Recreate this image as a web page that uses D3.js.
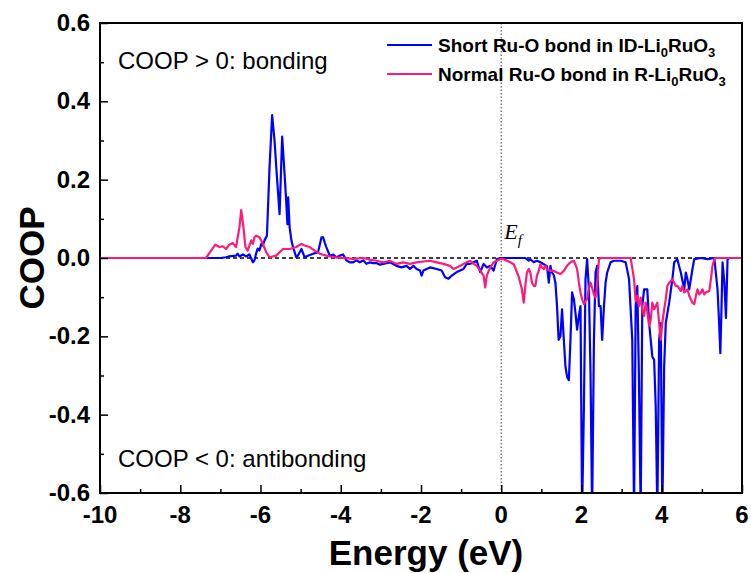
<!DOCTYPE html>
<html lang="en">
<head>
<meta charset="utf-8">
<title>COOP</title>
<script src="https://cdnjs.cloudflare.com/ajax/libs/d3/7.8.5/d3.min.js"></script>
<style>
  html, body { margin: 0; padding: 0; background: #fff; }
  svg { display: block; font-family: "Liberation Sans", Arial, sans-serif; }
</style>
</head>
<body>
<div id="chart"></div>
<script>
// ---- data: [energy (eV), COOP] ----
const shortBond = [
  [-10,0],[-7.0,0],[-6.86,0.002],[-6.775,0.004],[-6.61,0.006],[-6.57,0.011],[-6.525,0.004],[-6.44,0.009],
  [-6.36,0.004],[-6.275,0.009],[-6.19,-0.011],[-6.15,-0.006],[-6.11,0.011],[-6.07,0.024],[-6.025,0.019],
  [-5.98,0.036],[-5.94,0.032],[-5.9,0.045],[-5.84,0.057],[-5.775,0.231],[-5.71,0.365],[-5.65,0.299],
  [-5.59,0.206],[-5.525,0.112],[-5.46,0.31],[-5.4,0.214],[-5.36,0.146],[-5.33,0.086],[-5.31,0.155],
  [-5.275,0.079],[-5.23,0.045],[-5.19,0.028],[-5.11,0.002],[-5.07,0.006],[-4.98,0.023],[-4.9,0.002],
  [-4.815,0.006],[-4.69,0.011],[-4.565,0.015],[-4.48,0.053],[-4.44,0.053],[-4.4,0.04],[-4.36,0.028],
  [-4.275,0.006],[-4.19,0.009],[-4.11,0.002],[-4.025,0.006],[-3.94,0.009],[-3.86,-0.006],[-3.775,-0.011],
  [-3.69,-0.011],[-3.61,-0.006],[-3.525,-0.011],[-3.44,-0.006],[-3.36,-0.015],[-3.275,-0.011],[-3.19,-0.013],
  [-3.11,-0.013],[-3.025,-0.017],[-2.94,-0.015],[-2.775,-0.011],[-2.61,-0.02],[-2.485,-0.024],[-2.36,-0.02],
  [-2.275,-0.028],[-2.19,-0.02],[-2.11,-0.028],[-2.025,-0.032],[-1.985,-0.045],[-1.94,-0.032],[-1.86,-0.028],
  [-1.775,-0.024],[-1.61,-0.028],[-1.485,-0.032],[-1.4,-0.049],[-1.315,-0.053],[-1.235,-0.045],[-1.11,-0.036],
  [-1.025,-0.032],[-0.94,-0.028],[-0.86,-0.015],[-0.775,-0.015],[-0.69,-0.011],[-0.61,-0.007],[-0.525,-0.036],
  [-0.44,-0.015],[-0.36,-0.024],[-0.275,-0.02],[-0.19,-0.032],[-0.11,-0.003],[0,0],[0.6,0],[0.685,-0.007],
  [0.725,-0.003],[0.81,-0.011],[0.89,-0.007],[0.975,-0.011],[1.06,-0.016],[1.14,-0.021],[1.185,-0.063],
  [1.225,-0.02],[1.265,-0.037],[1.31,-0.044],[1.35,-0.063],[1.39,-0.123],[1.43,-0.209],[1.475,-0.2],
  [1.515,-0.131],[1.56,-0.209],[1.6,-0.277],[1.64,-0.303],[1.685,-0.312],[1.725,-0.209],[1.765,-0.088],
  [1.81,-0.105],[1.85,-0.14],[1.89,-0.183],[1.935,-0.148],[1.975,-0.123],[2.015,-0.65],[2.06,-0.38],
  [2.1,-0.054],[2.14,-0.003],[2.185,-0.08],[2.225,-0.294],[2.265,-0.65],[2.31,-0.209],[2.35,-0.037],
  [2.39,-0.02],[2.435,-0.123],[2.475,-0.123],[2.515,-0.209],[2.56,-0.123],[2.6,-0.063],[2.64,-0.037],
  [2.725,-0.011],[2.81,-0.007],[2.975,-0.007],[3.1,-0.011],[3.185,-0.054],[3.265,-0.209],[3.31,-0.65],
  [3.35,-0.123],[3.39,-0.072],[3.43,-0.294],[3.475,-0.65],[3.515,-0.123],[3.56,-0.08],[3.64,-0.08],
  [3.685,-0.166],[3.725,-0.209],[3.765,-0.252],[3.81,-0.26],[3.85,-0.38],[3.89,-0.65],[3.935,-0.209],
  [3.975,-0.166],[4.015,-0.65],[4.06,-0.277],[4.1,-0.166],[4.185,-0.114],[4.265,-0.054],[4.31,-0.011],
  [4.39,-0.003],[4.43,-0.02],[4.475,-0.037],[4.56,-0.08],[4.6,-0.037],[4.64,-0.054],[4.685,-0.08],
  [4.765,-0.028],[4.81,-0.003],[4.975,0],[5.14,-0.003],[5.31,0],[5.39,-0.08],[5.43,-0.166],[5.46,-0.243],
  [5.49,-0.123],[5.515,-0.011],[5.56,-0.063],[5.6,-0.153],[5.64,-0.003],[5.68,0]
];

const normalBond = [
  [-10,0],[-7.36,0],[-7.125,0.034],[-7.025,0.028],[-6.94,0.03],[-6.86,0.023],[-6.775,0.034],[-6.69,0.038],
  [-6.61,0.028],[-6.525,0.078],[-6.48,0.122],[-6.425,0.078],[-6.375,0.028],[-6.32,0.019],[-6.23,0.045],
  [-6.19,0.036],[-6.15,0.053],[-6.11,0.057],[-6.025,0.053],[-5.94,0.036],[-5.86,0.015],[-5.775,0.002],
  [-5.61,0.006],[-5.44,0.023],[-5.275,0.023],[-5.11,0.028],[-4.98,0.036],[-4.9,0.032],[-4.775,0.028],
  [-4.65,0.019],[-4.525,0.011],[-4.36,0.006],[-4.19,0.002],[-3.94,0],[-3.69,-0.002],[-3.44,0],
  [-3.275,-0.004],[-3.11,-0.007],[-2.94,-0.011],[-2.775,-0.007],[-2.61,-0.015],[-2.44,-0.011],[-2.275,-0.015],
  [-2.11,-0.011],[-1.94,-0.009],[-1.775,-0.007],[-1.61,-0.011],[-1.44,-0.015],[-1.275,-0.02],[-1.19,-0.028],
  [-1.11,-0.024],[-1.025,-0.02],[-0.94,-0.015],[-0.86,-0.011],[-0.775,-0.007],[-0.69,-0.015],[-0.61,-0.02],
  [-0.525,-0.032],[-0.44,-0.045],[-0.4,-0.075],[-0.36,-0.045],[-0.275,-0.024],[-0.19,-0.011],[-0.11,-0.007],
  [-0.025,-0.003],[0.06,-0.003],[0.14,-0.007],[0.225,-0.011],[0.31,-0.016],[0.43,-0.046],[0.515,-0.08],
  [0.56,-0.114],[0.6,-0.072],[0.64,-0.037],[0.685,-0.028],[0.725,-0.037],[0.765,-0.063],[0.81,-0.071],
  [0.85,-0.071],[0.89,-0.045],[0.935,-0.033],[0.975,-0.016],[1.015,-0.024],[1.06,-0.028],[1.1,-0.02],
  [1.14,-0.028],[1.225,-0.033],[1.31,-0.033],[1.39,-0.037],[1.475,-0.041],[1.56,-0.033],[1.64,-0.02],
  [1.725,-0.011],[1.81,-0.007],[1.89,-0.028],[1.935,-0.063],[1.975,-0.088],[2.015,-0.105],[2.06,-0.118],
  [2.1,-0.11],[2.14,-0.105],[2.185,-0.076],[2.225,-0.063],[2.265,-0.076],[2.31,-0.093],[2.35,-0.101],
  [2.39,-0.071],[2.435,-0.003],[2.475,0],[3.225,0],[3.31,-0.054],[3.35,-0.11],[3.39,-0.097],[3.43,-0.123],
  [3.475,-0.101],[3.515,-0.131],[3.56,-0.148],[3.6,-0.114],[3.64,-0.136],[3.685,-0.174],[3.725,-0.157],
  [3.765,-0.114],[3.81,-0.131],[3.85,-0.123],[3.89,-0.114],[3.935,-0.166],[3.975,-0.209],[4.015,-0.166],
  [4.06,-0.131],[4.1,-0.105],[4.14,-0.071],[4.185,-0.063],[4.265,-0.054],[4.35,-0.071],[4.39,-0.071],
  [4.475,-0.084],[4.515,-0.071],[4.56,-0.088],[4.64,-0.08],[4.685,-0.097],[4.765,-0.114],[4.81,-0.118],
  [4.85,-0.097],[4.89,-0.08],[4.935,-0.093],[4.975,-0.088],[5.015,-0.08],[5.06,-0.093],[5.1,-0.088],
  [5.185,-0.084],[5.225,-0.054],[5.265,-0.02],[5.31,-0.003],[5.35,0],[6,0]
];

const xTicks = [-10, -8, -6, -4, -2, 0, 2, 4, 6];
const yTicks = [-0.6, -0.4, -0.2, 0.0, 0.2, 0.4, 0.6];
const seriesNames = ["Short Ru-O bond in ID-Li", "Normal Ru-O bond in R-Li"];
const seriesColors = ["#0000ff", "#ff1a7a"];

// ---- layout ----
const W = 751, H = 573;
const margin = {top: 23, right: 9, bottom: 80, left: 100};
const width = W - margin.left - margin.right,
      height = H - margin.top - margin.bottom;

const x = d3.scaleLinear().domain([-10, 6]).range([0, width]);
const y = d3.scaleLinear().domain([-0.6, 0.6]).range([height, 0]);

const svg = d3.select("#chart").append("svg")
  .attr("width", W).attr("height", H);

const g = svg.append("g")
  .attr("transform", "translate(" + margin.left + "," + margin.top + ")");

g.append("clipPath").attr("id", "clip")
  .append("rect").attr("width", width).attr("height", height);

// zero line and Fermi level
g.append("line")
  .attr("x1", 0).attr("x2", width)
  .attr("y1", y(0)).attr("y2", y(0))
  .attr("stroke", "#000").attr("stroke-width", 1.5)
  .attr("stroke-dasharray", "4,3");

g.append("line")
  .attr("x1", x(0)).attr("x2", x(0))
  .attr("y1", 0).attr("y2", height)
  .attr("stroke", "#777").attr("stroke-width", 1.5)
  .attr("stroke-dasharray", "1.5,2");

// curves
const line = d3.line().x(d => x(d[0])).y(d => y(d[1]));
const plot = g.append("g").attr("clip-path", "url(#clip)");
[shortBond, normalBond].forEach(function(s, i) {
  plot.append("path")
    .datum(s)
    .attr("d", line)
    .attr("fill", "none")
    .attr("stroke", seriesColors[i])
    .attr("stroke-width", 2.2)
    .attr("stroke-linejoin", "round");
});

// axes - ticks point inward
const xAxis = g.append("g")
  .attr("transform", "translate(0," + height + ")")
  .call(d3.axisBottom(x).tickValues(d3.range(-10, 6.5, 1)).tickSize(-4).tickFormat(""));
xAxis.selectAll(".tick line").filter(d => xTicks.includes(d)).attr("y2", -8);
xAxis.select(".domain").remove();

const yAxis = g.append("g")
  .call(d3.axisLeft(y).tickValues(d3.range(-6, 7, 1).map(v => v / 10)).tickSize(-4).tickFormat(""));
yAxis.selectAll(".tick line").filter(d => yTicks.some(t => Math.abs(t - d) < 1e-9)).attr("x2", 8);
yAxis.select(".domain").remove();
g.selectAll(".tick line").attr("stroke", "#000").attr("stroke-width", 1.5);

// tick labels
g.append("g").selectAll("text")
  .data(xTicks).enter().append("text")
  .attr("x", d => x(d)).attr("y", height + 30)
  .attr("text-anchor", "middle")
  .attr("font-size", 24).attr("font-weight", "bold")
  .text(d => d);

g.append("g").selectAll("text")
  .data(yTicks).enter().append("text")
  .attr("x", -10).attr("y", d => y(d) + 8)
  .attr("text-anchor", "end")
  .attr("font-size", 24).attr("font-weight", "bold")
  .text(d => d3.format(".1f")(d).replace("−", "-"));

// frame
g.append("rect")
  .attr("width", width).attr("height", height)
  .attr("fill", "none").attr("stroke", "#000").attr("stroke-width", 2);

// axis titles
svg.append("text")
  .attr("x", margin.left + width / 2 + 5).attr("y", H - 8)
  .attr("text-anchor", "middle")
  .attr("font-size", 35).attr("font-weight", "bold")
  .text("Energy (eV)");

svg.append("text")
  .attr("transform", "translate(44," + (margin.top + y(0)) + ") rotate(-90)")
  .attr("text-anchor", "middle")
  .attr("font-size", 35).attr("font-weight", "bold")
  .text("COOP");

// annotations
g.append("text").attr("x", 18).attr("y", 46)
  .attr("font-size", 24).text("COOP > 0: bonding");
g.append("text").attr("x", 18).attr("y", 444)
  .attr("font-size", 24).text("COOP < 0: antibonding");

const ef = g.append("text")
  .attr("x", x(0) + 3).attr("y", 216)
  .attr("font-family", "'Liberation Serif', 'DejaVu Serif', serif")
  .attr("font-style", "italic").attr("font-size", 22);
ef.append("tspan").text("E");
ef.append("tspan").attr("font-size", 15).attr("dy", 6).text("f");

// legend
const legend = g.append("g").attr("transform", "translate(287,22)");
seriesNames.forEach(function(name, i) {
  const row = legend.append("g").attr("transform", "translate(0," + (i * 29) + ")");
  row.append("line")
    .attr("x1", 0).attr("x2", 45).attr("y1", 0).attr("y2", 0)
    .attr("stroke", seriesColors[i]).attr("stroke-width", 2);
  const t = row.append("text").attr("x", 51).attr("y", 7)
    .attr("font-size", 19).attr("font-weight", "bold");
  t.append("tspan").text(name);
  t.append("tspan").attr("font-size", 13).attr("dy", 5).text("0");
  t.append("tspan").attr("dy", -5).text("RuO");
  t.append("tspan").attr("font-size", 13).attr("dy", 5).text("3");
});
</script>
</body>
</html>
